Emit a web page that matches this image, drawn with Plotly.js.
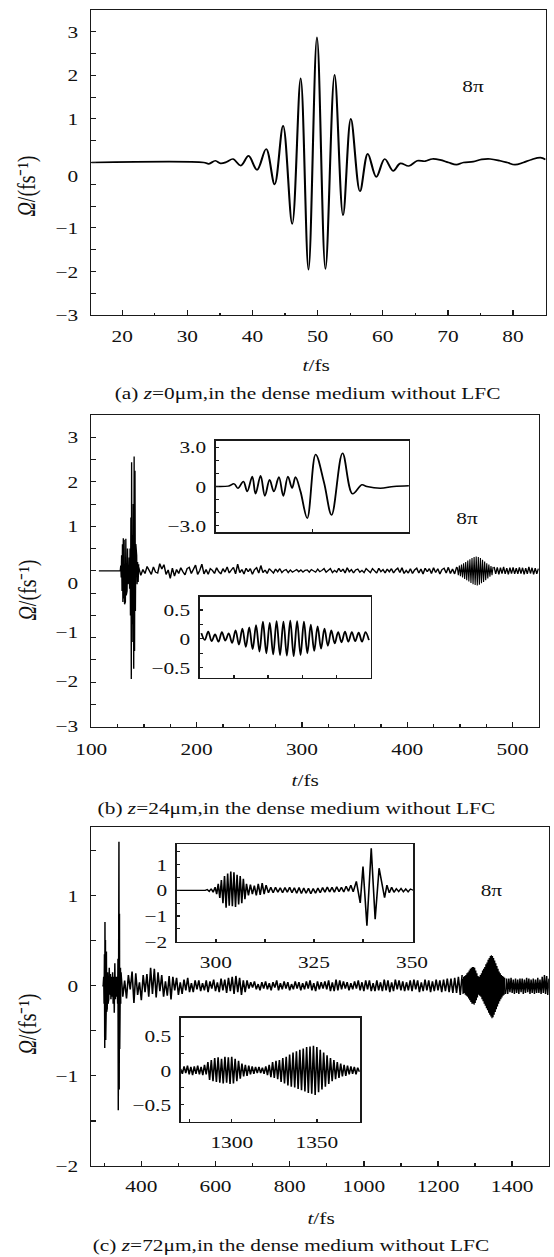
<!DOCTYPE html>
<html><head><meta charset="utf-8">
<script src="https://cdn.plot.ly/plotly-3.0.1.min.js"></script>
<style>
html,body{margin:0;padding:0;background:#fff;overflow:hidden;}
#wrap{width:554px;height:1257px;overflow:hidden;background:#fff;}
#chart{height:1257px;transform-origin:0 0;}
</style></head><body><div id="wrap"><div id="chart"></div></div>
<script>
// ---------- DATA ----------
// Panel (a): z = 0 um, extrema of the pulse
const aT = [15.25,32.5,33.3,34.3,35.1,36.0,37.0,38.2,39.4,40.7,42.1,43.4,44.7,46.1,47.4,48.6,49.9,51.2,52.6,53.9,55.1,56.5,57.7,59.0,60.3,61.6,62.7,64.0,65.3,66.5,67.6,68.8,70.1,71.3,72.4,73.9,75.2,76.5,78.0,79.1,80.3,81.6,82.9,84.2,85.0];
const aV = [0,0,-0.03,0.04,-0.02,0.01,0.08,-0.07,0.15,-0.17,0.31,-0.5,0.84,-1.41,1.93,-2.46,2.87,-2.44,2.01,-1.21,1.0,-0.66,0.2,-0.33,0.08,-0.19,-0.02,-0.08,0.04,0.03,0.08,0.06,0,-0.05,0,0.02,0.07,0.08,0.04,0,-0.05,0,0.07,0.11,0.07];
const aXTicks = [20,30,40,50,60,70,80];
const abYText = ['3','2','1','0','\u22121','\u22122','\u22123'];

// Panel (b): z = 24 um
const bBurstT = [107.2,127.5,128.0,128.4,128.8,129.2,129.6,130.0,130.4,130.8,131.2,131.6,132.0,132.4,132.8,133.2,133.6,134.0,134.4,134.8,135.2,135.6,136.0,136.4,136.8,137.2,137.6,138.0,138.3,138.7,139.1,139.5,139.9,140.3,140.7,141.1,141.5,141.9,142.3,142.7,143.1,143.5,144.0,144.5,145.0];
const bBurstV = [0,0,0.12,-0.15,0.35,-0.45,0.6,-0.7,0.73,-0.62,0.7,-0.75,0.55,-0.7,0.72,-0.55,0.6,-0.45,0.5,-0.3,0.35,-0.25,0.3,-0.4,0.5,-1.0,1.2,-2.43,2.44,-1.2,0.8,-1.6,1.5,-2.2,2.57,-1.8,2.25,-0.9,0.6,-0.5,0.35,-0.3,0.2,-0.25,0.15];
const bNoiseT0 = 145, bNoiseDT = 2;
const bNoiseV = [
0.08,-0.1,0.03,-0.06,0.1,0.02,-0.08,0.09,-0.03,-0.05,
0.16,0.04,0.14,-0.08,0.02,-0.17,0.06,-0.12,0.03,-0.06,
0.07,-0.02,-0.09,0.05,0.08,-0.06,0.02,0.13,-0.08,0.01,
0.15,-0.07,0.03,-0.08,0.05,0.01,-0.06,0.07,-0.02,-0.07,
0.05,-0.03,0.09,-0.05,0.02,0.08,-0.07,0.15,-0.04,0.03,
-0.07,0.06,-0.02,0.05,-0.08,0.03,0.07,-0.05,0.12,-0.04,
0.02,-0.06,0.05,0.01,-0.05,0.04,-0.02,0.05,-0.04,0.01,
0.03,-0.04,0.02,-0.03,0.01,0.03,-0.02,0.02,-0.03,0.01,
0.02,-0.03,0.03,0.0,-0.03,0.04,-0.02,0.01,0.05,-0.03,
0.02,0.05,-0.04,0.01,-0.03,0.06,-0.02,0.04,-0.05,0.07,
-0.02,0.03,-0.05,0.02,0.04,-0.03,0.01,-0.04,0.05,-0.01,
-0.04,0.05,0.0,-0.05,0.06,-0.02,0.03,-0.05,0.04,-0.02,
0.05,-0.05,0.02,0.06,-0.04,0.07,-0.06,0.01,-0.05,0.05,
-0.06,0.02,0.06,-0.05,0.04,-0.07,0.06,-0.02,0.05,-0.06,
0.07,-0.04,0.05,-0.07,0.03,0.06,-0.05,0.08,-0.06,0.04,
-0.07,0.09];
const bPacketT0 = 447.5, bPacketDT = 1;
const bPacketV = [0.08,-0.1,0.12,-0.12,0.14,-0.15,0.17,-0.18,0.2,-0.21,0.23,-0.24,0.26,-0.27,0.29,-0.3,0.31,-0.32,0.32,-0.33,0.31,-0.31,0.29,-0.28,0.25,-0.25,0.21,-0.21,0.17,-0.17,0.14,-0.13,0.11,-0.1,0.09];
const bTailT0 = 482.5, bTailDT = 1.5;
const bTailV = [0.09,-0.07,0.08,-0.08,0.07,-0.06,0.09,-0.07,0.06,-0.08,0.07,-0.06,0.08,-0.07,0.06,-0.07,0.08,-0.06,0.07,-0.08,0.06,-0.07,0.09,-0.06,0.07,-0.08,0.06,-0.07,0.05];
const bXTicks = [100,200,300,400,500];
// inset (b) upper: first burst
const bInAT = [126.0,127.5,128.2,128.65,129.3,129.76,130.36,130.75,131.35,131.86,132.42,132.93,133.53,134.05,134.6,135.1,135.5,136.1,136.9,137.9,138.9,139.8,141.1,142.3,143.4,144.0,145.6,147.2,149.0];
const bInAV = [0,0.03,0.2,-0.13,0.38,-0.38,0.77,-0.56,0.82,-0.72,0.51,-0.38,0.72,-0.72,0.77,-0.12,0.72,-0.38,-2.42,2.45,0.3,-2.17,2.55,-0.56,0.13,0,-0.13,0,0.05];
const bInAText = ['3.0','0','\u22123.0'];
// inset (b) lower: packet near 465 fs
const bInBT0 = 440.5, bInBDT = 1;
const bInBV = [
0.1,-0.02,0.13,-0.04,0.08,-0.05,0.12,-0.03,0.1,-0.07,
0.15,-0.1,0.18,-0.14,0.2,-0.18,0.24,-0.22,0.3,-0.25,
0.28,-0.27,0.31,-0.28,0.3,-0.29,0.32,-0.3,0.31,-0.28,
0.3,-0.25,0.25,-0.21,0.22,-0.17,0.18,-0.12,0.15,-0.08,
0.12,-0.06,0.13,-0.05,0.12,-0.04,0.11,-0.05,0.12,-0.02];
const bInBText = ['0.5','0','\u22120.5'];

// Panel (c): z = 72 um
const cBurstT = [294.7,297,298.5,299.5,300.5,301.3,301.9,302.6,303.2,303.9,304.5,305.1,305.8,306.5,307.2,308,309,310,311,312,313.5,315,316.5,318,319.5,321,322.5,324,325.5,327,328.5,330,331.5,333,334.5,336,337,337.8,338.6,339.2,339.6,340.3,341,341.7,342.3,343,343.7,344.5];
const cBurstV = [0,0,0.1,-0.2,0.35,-0.69,0.71,-0.45,0.51,-0.6,0.3,-0.3,0.38,-0.29,0.2,-0.25,0.15,-0.2,0.12,-0.15,0.2,-0.1,0.13,-0.15,0.1,-0.12,0.15,-0.2,0.1,-0.3,0.25,-0.15,0.1,-0.12,0.1,-0.2,0.3,-1.38,1.0,-1.14,1.6,-1.15,0.8,-0.7,0.35,-0.3,0.2,-0.2];
const cNoiseT0 = 345, cNoiseDT = 5;
const cNoiseV = [
0.15,-0.12,0.06,-0.14,0.12,-0.04,0.16,-0.19,0.14,-0.1,
0.04,-0.16,0.12,-0.07,0.13,-0.12,0.2,-0.09,0.19,-0.13,
0.15,-0.06,0.12,-0.12,0.05,-0.11,0.11,-0.15,0.1,-0.05,
0.09,-0.1,0.04,-0.09,0.07,-0.05,0.09,-0.07,0.03,-0.07,
0.06,-0.04,0.06,-0.06,0.03,-0.05,0.06,-0.07,0.05,-0.03,
0.07,-0.06,0.04,-0.07,0.08,-0.05,0.07,-0.08,0.09,-0.06,
0.1,-0.09,0.11,-0.07,0.09,-0.1,0.06,-0.07,0.06,-0.03,
0.04,-0.02,0.05,-0.04,0.02,-0.05,0.04,-0.03,0.05,-0.04,
0.03,-0.05,0.04,-0.02,0.06,-0.05,0.03,-0.04,0.05,-0.03,
0.04,-0.05,0.02,-0.04,0.05,-0.03,0.04,-0.05,0.03,-0.04,
0.05,-0.03,0.06,-0.05,0.03,-0.06,0.05,-0.04,0.04,-0.03,
0.05,-0.04,0.06,-0.06,0.04,-0.06,0.07,-0.05,0.06,-0.04,
0.05,-0.03,0.04,-0.05,0.03,-0.04,0.05,-0.03,0.06,-0.05,
0.04,-0.06,0.06,-0.04,0.06,-0.06,0.03,-0.06,0.06,-0.05,
0.04,-0.06,0.07,-0.05,0.06,-0.07,0.04,-0.06,0.07,-0.04,
0.06,-0.05,0.05,-0.06,0.04,-0.05,0.06,-0.06,0.07,-0.04,
0.06,-0.07,0.04,-0.06,0.07,-0.05,0.06,-0.07,0.05,-0.06,
0.07,-0.05,0.06,-0.07,0.07,-0.06,0.08,-0.07,0.08,-0.08,
0.09,-0.08,0.1,-0.1,0.12];
const cPacketT0 = 1266, cPacketDT = 1.5;
const cPacketV = [
0.08,-0.09,0.1,-0.08,0.11,-0.1,0.12,-0.11,0.14,-0.12,
0.15,-0.14,0.17,-0.16,0.19,-0.18,0.2,-0.2,0.21,-0.2,
0.21,-0.21,0.2,-0.19,0.17,-0.16,0.14,-0.13,0.11,-0.1,
0.1,-0.11,0.12,-0.12,0.14,-0.15,0.17,-0.17,0.19,-0.2,
0.21,-0.22,0.24,-0.25,0.26,-0.27,0.29,-0.3,0.31,-0.32,
0.33,-0.34,0.34,-0.36,0.33,-0.35,0.31,-0.32,0.28,-0.29,
0.25,-0.26,0.22,-0.23,0.19,-0.2,0.16,-0.17,0.14,-0.15,
0.12,-0.13,0.11,-0.11,0.1,-0.1,0.09];
const cTailT0 = 1382, cTailDT = 3;
const cTailV = [-0.09,0.08,-0.09,0.08,-0.07,0.09,-0.08,0.07,-0.09,0.08,-0.08,0.07,-0.09,0.08,-0.07,0.08,-0.09,0.07,-0.08,0.09,-0.07,0.08,-0.09,0.07,-0.08,0.08,-0.09,0.07,-0.08,0.09,-0.08,0.07,-0.09,0.1,-0.08,0.12,-0.09,0.11,-0.1,0.08];
const cXTicks = [400,600,800,1000,1200,1400];
const cYText = ['1','0','\u22121','\u22122'];
// inset (c) upper: 290-350 fs
const cInAT = [290,297.3,297.8,298.3,298.8,299.3,299.8,300.2,300.6,301.0,301.4,301.8,302.2,302.6,303.0,303.4,303.8,304.2,304.6,305.0,305.4,305.8,306.2,306.6,307.0,307.4,307.8,308.3,308.8,309.3,309.8,310.3,310.8,311.3,311.8,312.3,312.8,313.4,314.0,314.6,315.2,315.8,316.4,317.0,317.6,318.2,318.8,319.4,320.0,320.6,321.2,321.8,322.4,323.0,323.6,324.2,324.8,325.4,326.0,326.6,327.2,327.8,328.4,329.0,329.6,330.2,330.8,331.4,332.0,332.6,333.2,333.8,334.4,335.0,335.8,336.8,337.5,338.5,339.6,340.6,341.6,343.0,343.6,344.2,344.8,345.4,346.0,346.6,347.2,347.8,348.4,349.0,349.6,350.3];
const cInAV = [0,0,0.03,-0.04,0.06,-0.08,0.12,-0.15,0.25,-0.3,0.4,-0.5,0.55,-0.68,0.65,-0.6,0.73,-0.62,0.7,-0.65,0.6,-0.55,0.55,-0.5,0.45,-0.35,0.25,-0.2,0.22,-0.15,0.18,-0.2,0.25,-0.18,0.28,-0.15,0.2,-0.1,0.12,-0.1,0.12,-0.08,0.1,-0.1,0.11,-0.08,0.12,-0.1,0.1,-0.12,0.11,-0.13,0.09,-0.12,0.08,-0.14,0.07,-0.12,0.09,-0.1,0.11,-0.08,0.13,-0.07,0.12,-0.08,0.14,-0.06,0.12,-0.07,0.16,-0.04,0.2,-0.06,0.35,-0.49,0.92,-1.38,1.63,-1.13,0.86,-0.29,0.2,-0.1,0.12,-0.08,0.06,-0.05,0.07,-0.06,0.05,-0.06,0.05,0];
const cInAXTicks = [300,325,350];
// inset (c) lower: 1270-1375 fs
const cInBT0 = 1270, cInBDT = 1;
const cInBV = [
0.02,-0.05,0.06,-0.04,0.07,-0.06,0.05,-0.07,0.06,-0.05,
0.07,-0.06,0.05,-0.07,0.08,-0.06,0.12,-0.14,0.15,-0.16,
0.18,-0.17,0.19,-0.18,0.17,-0.19,0.2,-0.18,0.19,-0.2,
0.2,-0.19,0.17,-0.16,0.14,-0.12,0.1,-0.09,0.08,-0.08,
0.07,-0.06,0.06,-0.05,0.05,-0.04,0.05,-0.04,0.04,-0.05,
0.06,-0.07,0.08,-0.1,0.12,-0.11,0.14,-0.13,0.15,-0.17,
0.18,-0.19,0.2,-0.22,0.23,-0.24,0.26,-0.25,0.28,-0.27,
0.3,-0.29,0.32,-0.31,0.34,-0.33,0.35,-0.34,0.36,-0.36,
0.34,-0.32,0.3,-0.28,0.26,-0.24,0.22,-0.2,0.18,-0.16,
0.15,-0.13,0.12,-0.11,0.1,-0.09,0.08,-0.08,0.07,-0.06,
0.06,-0.05,0.05,-0.06,0.04,-0.02];
const cInBXTicks = [1300,1350];
const insetHalfText = ['0.5','0','\u22120.5'];

// ---------- LAYOUT ----------
const SX = 1.22;                 // horizontal stretch of the reference figure
const W = 554 / SX, H = 1257;
document.getElementById('chart').style.width = W + 'px';
document.getElementById('chart').style.transform = 'scaleX(' + SX + ')';
const FONT = 'Liberation Serif, Times New Roman, serif';
const FS = 17.5;
const INK = '#1a1a1a';
const PX = v => v / 554;
const PY = v => 1 - v / 1257;

function mn(vals, len) {
  return {tickmode: 'array', tickvals: vals, ticks: 'inside', ticklen: len, tickwidth: 1.1, tickcolor: INK, showgrid: false};
}
function axis(o) {
  return Object.assign({
    showline: true, mirror: true, linecolor: INK, linewidth: 1.3,
    showgrid: false, zeroline: false, ticks: 'inside', tickcolor: INK, tickwidth: 1.1,
    tickmode: 'array', tickfont: {family: FONT, size: FS, color: '#111'}, fixedrange: true
  }, o);
}
const half = [-3,-2.5,-2,-1.5,-1,-0.5,0,0.5,1,1.5,2,2.5,3];

const layout = {
  width: W, height: H, margin: {l: 0, r: 0, t: 0, b: 0},
  paper_bgcolor: '#fff', plot_bgcolor: 'rgba(0,0,0,0)', showlegend: false,
  font: {family: FONT, size: FS, color: '#111'},
  // panel (a)
  xaxis: axis({domain: [PX(91.3), PX(545.7)], range: [15.25, 85], anchor: 'y',
    tickvals: aXTicks, ticktext: aXTicks.map(String), ticklen: 5, ticklabelstandoff: 5,
    minor: mn([25,35,45,55,65,75], 2.5)}),
  yaxis: axis({domain: [PY(315), PY(10)], range: [-3.5, 3.5], anchor: 'x',
    tickvals: [3,2,1,-0.3,-1.5,-2.5,-3.49], ticktext: abYText, ticklen: 0, ticklabelstandoff: 6,
    minor: mn(half, 4)}),
  // panel (b)
  xaxis2: axis({domain: [PX(91.3), PX(539)], range: [100, 525], anchor: 'y2',
    tickvals: bXTicks, ticktext: bXTicks.map(String), ticklen: 5, ticklabelstandoff: 6,
    minor: mn([125,150,175,225,250,275,325,350,375,425,450,475], 3)}),
  yaxis2: axis({domain: [PY(726.7), PY(415)], range: [-3.5, 3.5], anchor: 'x2',
    tickvals: [3,2,1,-0.28,-1.37,-2.47,-3.49], ticktext: abYText, ticklen: 0, ticklabelstandoff: 6,
    minor: mn(half, 4)}),
  xaxis3: axis({domain: [PX(215.7), PX(409)], range: [126, 149], anchor: 'y3',
    tickvals: [137.5], showticklabels: false, ticklen: 3}),
  yaxis3: axis({domain: [PY(532.3), PY(440.7)], range: [-3.5, 3.5], anchor: 'x3',
    tickvals: [3,0,-3], ticktext: bInAText, ticklen: 3, ticklabelstandoff: 3,
    minor: mn([-2,-1,1,2], 3)}),
  xaxis4: axis({domain: [PX(199.7), PX(370.7)], range: [440, 490], anchor: 'y4',
    tickvals: [450,460,470,480], showticklabels: false, ticklen: 3}),
  yaxis4: axis({domain: [PY(677.7), PY(596.7)], range: [-0.67, 0.73], anchor: 'x4',
    tickvals: [0.5,0,-0.5], ticktext: bInBText, ticklen: 3, ticklabelstandoff: 3,
    minor: mn([-0.25,0.25], 3)}),
  // panel (c)
  xaxis5: axis({domain: [PX(91.3), PX(549)], range: [265, 1499], anchor: 'y5',
    tickvals: cXTicks, ticktext: cXTicks.map(String), ticklen: 5, ticklabelstandoff: 4,
    minor: mn([300,500,700,900,1100,1300], 3)}),
  yaxis5: axis({domain: [PY(1166), PY(827.3)], range: [-2, 1.76], anchor: 'x5',
    tickvals: [1,0,-1,-2], ticktext: cYText, ticklen: 4, ticklabelstandoff: 6,
    minor: mn([-1.5,-0.5,0.5,1.5], 4)}),
  xaxis6: axis({domain: [PX(176.7), PX(413.3)], range: [290, 350.3], anchor: 'y6',
    tickvals: cInAXTicks, ticktext: cInAXTicks.map(String), ticklen: 3, ticklabelstandoff: 4,
    minor: mn([312.5,337.5], 3)}),
  yaxis6: axis({domain: [PY(941.7), PY(844)], range: [-2, 1.8], anchor: 'x6',
    tickvals: [1,0,-1,-2], ticktext: cYText, ticklen: 3, ticklabelstandoff: 3,
    minor: mn([-1.5,-0.5,0.5,1.5], 3)}),
  xaxis7: axis({domain: [PX(180.7), PX(360)], range: [1270, 1375.3], anchor: 'y7',
    tickvals: cInBXTicks, ticktext: cInBXTicks.map(String), ticklen: 3, ticklabelstandoff: 4,
    minor: mn([1275,1325], 3)}),
  yaxis7: axis({domain: [PY(1121.7), PY(1017.7)], range: [-0.75, 0.77], anchor: 'x7',
    tickvals: [0.5,0,-0.5], ticktext: insetHalfText, ticklen: 3, ticklabelstandoff: 3,
    minor: mn([-0.25,0.25], 3)}),
  annotations: []
};

function ann(text, x, y, size, extra) {
  layout.annotations.push(Object.assign({
    text: text, xref: 'paper', yref: 'paper', x: PX(x), y: PY(y),
    xanchor: 'center', yanchor: 'middle', showarrow: false,
    font: {family: FONT, size: size, color: '#111'}
  }, extra || {}));
}
const yTitle = '<i>\u03A9</i>/(fs\u207B\u00B9)';
ann(yTitle, 27.5, 186, 20, {textangle: -90});
ann(yTitle, 27.5, 590, 20, {textangle: -90});
ann(yTitle, 27.5, 1024, 20, {textangle: -90});
ann('<i>t</i>/fs', 317, 365, FS);
ann('<i>t</i>/fs', 305.7, 780, FS);
ann('<i>t</i>/fs', 321.5, 1218, FS);
ann('(a) <i>z</i>=0\u03BCm,in the dense medium without LFC', 307, 393, FS);
ann('(b) <i>z</i>=24\u03BCm,in the dense medium without LFC', 296.5, 808, FS);
ann('(c) <i>z</i>=72\u03BCm,in the dense medium without LFC', 290.7, 1245, FS);
ann('8\u03C0', 474, 86, FS);
ann('8\u03C0', 467.3, 518.3, FS);
ann('8\u03C0', 492.3, 890, FS);

// ---------- TRACES ----------
const L = (w, shape) => ({color: '#000', width: w, shape: shape || 'linear'});
const traces = [
  {x: aT, y: aV, xaxis: 'x', yaxis: 'y', mode: 'lines', line: L(1.7, 'spline')},
  {x: bBurstT, y: bBurstV, xaxis: 'x2', yaxis: 'y2', mode: 'lines', line: L(1.1)},
  {x0: bNoiseT0, dx: bNoiseDT, y: bNoiseV, xaxis: 'x2', yaxis: 'y2', mode: 'lines', line: L(1.2)},
  {x0: bPacketT0, dx: bPacketDT, y: bPacketV, xaxis: 'x2', yaxis: 'y2', mode: 'lines', line: L(0.9)},
  {x0: bTailT0, dx: bTailDT, y: bTailV, xaxis: 'x2', yaxis: 'y2', mode: 'lines', line: L(1.1)},
  {x: bInAT, y: bInAV, xaxis: 'x3', yaxis: 'y3', mode: 'lines', line: L(1.5, 'spline')},
  {x0: bInBT0, dx: bInBDT, y: bInBV, xaxis: 'x4', yaxis: 'y4', mode: 'lines', line: L(1.5, 'spline')},
  {x: cBurstT, y: cBurstV, xaxis: 'x5', yaxis: 'y5', mode: 'lines', line: L(1.2)},
  {x0: cNoiseT0, dx: cNoiseDT, y: cNoiseV, xaxis: 'x5', yaxis: 'y5', mode: 'lines', line: L(1.3)},
  {x0: cPacketT0, dx: cPacketDT, y: cPacketV, xaxis: 'x5', yaxis: 'y5', mode: 'lines', line: L(1.0)},
  {x0: cTailT0, dx: cTailDT, y: cTailV, xaxis: 'x5', yaxis: 'y5', mode: 'lines', line: L(1.2)},
  {x: cInAT, y: cInAV, xaxis: 'x6', yaxis: 'y6', mode: 'lines', line: L(1.3)},
  {x0: cInBT0, dx: cInBDT, y: cInBV, xaxis: 'x7', yaxis: 'y7', mode: 'lines', line: L(1.3)}
];

Plotly.newPlot('chart', traces, layout, {staticPlot: true, displayModeBar: false, responsive: false});
</script></body></html>
